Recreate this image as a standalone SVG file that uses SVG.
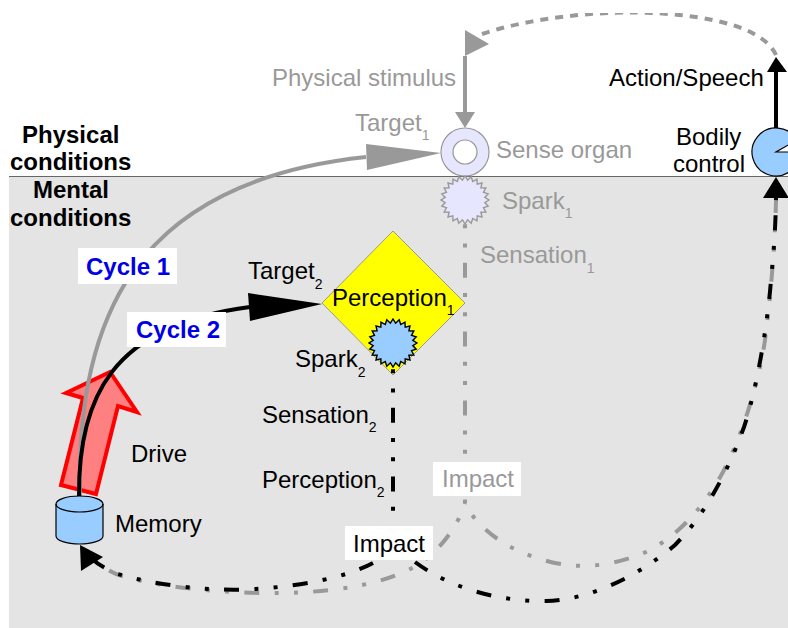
<svg xmlns="http://www.w3.org/2000/svg" width="788" height="628" viewBox="0 0 788 628">
<style>
text{font-family:"Liberation Sans",Arial,sans-serif;font-size:24px;fill:#000}
.g{fill:#999}
.b{font-weight:bold}
.c{font-weight:bold;fill:#0000e6}
.sub{font-size:14px}
.node{stroke:#000;stroke-width:1.2}
.spark1{fill:#e6e6ff;stroke:#999;stroke-width:1.4}
.spark2{fill:#99ccff;stroke:#000;stroke-width:1.4}
.lg{fill:none;stroke:#999;stroke-width:4}
.lk{fill:none;stroke:#000;stroke-width:4}
.dd{stroke-dasharray:15 15.2 4 15.2 4 15.4}
.ag{fill:#999}
.ak{fill:#000}
.box{fill:#fff}
</style>
<defs>
<polygon id="star" points="24,0 19.8,2.6 23.2,6.2 18.5,7.7 20.8,12 15.9,12.2 17,17 12.2,15.9 12,20.8 7.7,18.5 6.2,23.2 2.6,19.8 0,24 -2.6,19.8 -6.2,23.2 -7.7,18.5 -12,20.8 -12.2,15.9 -17,17 -15.9,12.2 -20.8,12 -18.5,7.7 -23.2,6.2 -19.8,2.6 -24,0 -19.8,-2.6 -23.2,-6.2 -18.5,-7.7 -20.8,-12 -15.9,-12.2 -17,-17 -12.2,-15.9 -12,-20.8 -7.7,-18.5 -6.2,-23.2 -2.6,-19.8 0,-24 2.6,-19.8 6.2,-23.2 7.7,-18.5 12,-20.8 12.2,-15.9 17,-17 15.9,-12.2 20.8,-12 18.5,-7.7 23.2,-6.2 19.8,-2.6"/>
<clipPath id="top"><rect x="0" y="13" width="788" height="200"/></clipPath>
</defs>
<rect id="mental-area" x="9" y="177" width="779" height="451" fill="#e4e4e4"/>
<line x1="9" y1="176.5" x2="788" y2="176.5" stroke="#666" stroke-width="1"/>
<g id="drive"><polygon points="110,372 66,393 83,398 61,485 96,494 118,406 137,412" fill="#ff8080" stroke="#f00" stroke-width="4" stroke-linejoin="miter"/></g>
<g id="perception1"><polygon points="393,231 322,303 393,375 465,303" fill="#ff0" stroke="#999" stroke-width="1"/></g>
<g id="connectors">
<path class="lg" d="M80,497 C75,300 150,180 366,157"/>
<polygon class="ag" points="441,153 366,144 367,170"/>
<path class="lk" d="M79,497 C78,400 110,325 250,307"/>
<polygon class="ak" points="322,304 248,293 250,321"/>
<path class="lg" clip-path="url(#top)" stroke-dasharray="8 7" d="M482,34 C530,18 590,12.5 630,12.5 C680,12.5 760,20 776,55"/>
<polygon class="ag" points="465,30 465,56 489,44"/>
<line class="lg" x1="465" y1="56" x2="465" y2="114"/>
<polygon class="ag" points="455,112 475,112 465,128"/>
<line class="lk" x1="776" y1="128" x2="776" y2="70"/>
<polygon class="ak" points="767,72 787,72 776,57"/>
<line class="lg dd" x1="465" y1="194" x2="465" y2="503"/>
<path class="lg dd" stroke-dashoffset="33" d="M465,503 C460,522 440,553 414,567 C385,583 345,590 300,592.5 C250,595 170,590 122,576 C105,571 95,560 83,548"/>
<path class="lg dd" stroke-dashoffset="35" d="M465,503 C475,525 505,552 555,563 C590,570 620,563 646,552 C680,535 705,505 723,472 C745,430 760,375 765,340 C770,300 775,250 776,200"/>
<line class="lk dd" x1="393" y1="339" x2="393" y2="530"/>
<path class="lk dd" d="M373,563 C345,578 300,586 256,589 C210,592 155,585 118,574 C105,569 95,563 85,552"/>
<path class="lk dd" d="M415,562 C450,588 500,602 546,601 C590,600 640,575 675,545 C700,520 725,480 744,427 C758,385 768,320 771,280 C774,250 776,220 776,192"/>
<polygon class="ak" points="80,545 103,557 81,571"/>
<polygon class="ak" points="776,177 763,198 789,198"/>
</g>
<g id="memory"><path class="node" fill="#99ccff" d="M56,504 A23.5,8 0 0 1 103,504 V536 A23.5,8 0 0 1 56,536 Z"/><path class="node" fill="none" d="M56,504 A23.5,8 0 0 0 103,504"/></g>
<g id="sense-organ"><circle cx="465" cy="152" r="24" fill="#e6e6ff" stroke="#999" stroke-width="1.2"/><circle cx="465" cy="152" r="12" fill="#fff" stroke="#999" stroke-width="1.2"/></g>
<g id="spark1"><use href="#star" x="465" y="200" class="spark1"/></g>
<g id="spark2"><use href="#star" x="393" y="343" class="spark2"/></g>
<g id="bodily-control"><path class="node" fill="#99ccff" d="M776,152 L800,152 A24,24 0 1 1 796.8,140 Z"/></g>
<g id="labels">
<text class="b" x="22" y="143">Physical</text>
<text class="b" x="10" y="170">conditions</text>
<text class="b" x="33" y="198">Mental</text>
<text class="b" x="10" y="226">conditions</text>
<text class="g" x="272" y="86">Physical stimulus</text>
<text class="g" x="355" y="131">Target<tspan class="sub g" dy="9">1</tspan></text>
<text class="g" x="496" y="158">Sense organ</text>
<text class="g" x="502" y="209">Spark<tspan class="sub g" dy="9">1</tspan></text>
<text class="g" x="480" y="263">Sensation<tspan class="sub g" dy="10">1</tspan></text>
<text x="609" y="86">Action/Speech</text>
<text x="676" y="145">Bodily</text>
<text x="673" y="172">control</text>
<text x="248" y="279">Target<tspan class="sub" dy="10">2</tspan></text>
<text x="332" y="306">Perception<tspan class="sub" dy="9">1</tspan></text>
<text x="295" y="367">Spark<tspan class="sub" dy="10">2</tspan></text>
<text x="262" y="423">Sensation<tspan class="sub" dy="9">2</tspan></text>
<text x="262" y="488">Perception<tspan class="sub" dy="9">2</tspan></text>
<text x="131" y="462">Drive</text>
<text x="115" y="532">Memory</text>
<rect class="box" x="78" y="248" width="99" height="36"/>
<text class="c" x="86" y="275">Cycle 1</text>
<rect class="box" x="127" y="312" width="99" height="35"/>
<text class="c" x="136" y="338">Cycle 2</text>
<rect class="box" x="433" y="462" width="88" height="34"/>
<text class="g" x="442" y="487">Impact</text>
<rect class="box" x="345" y="526" width="88" height="34"/>
<text x="353" y="552">Impact</text>
</g>
</svg>
